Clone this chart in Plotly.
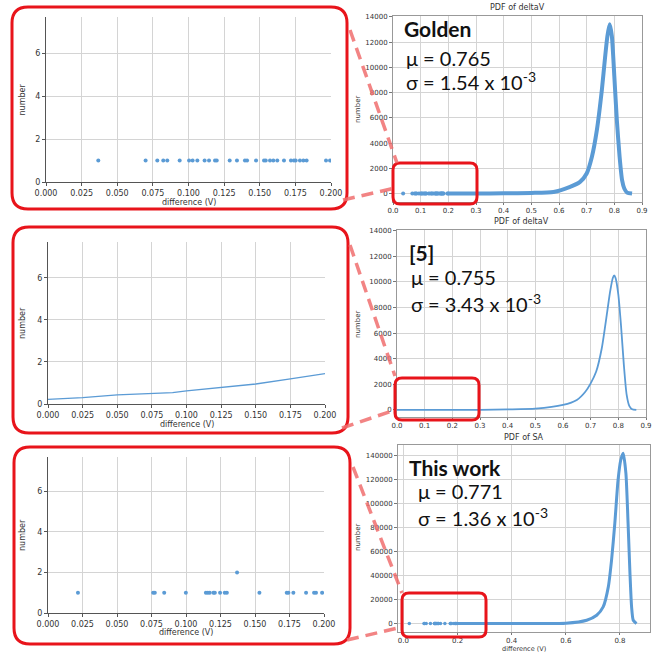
import plotly.graph_objects as go

W, H = 665, 654
BLUE = "#5b9bd5"
RED = "#e8141b"
PINK = "rgba(240,110,110,0.85)"

# ---------------- data ----------------
# top-left zoom (Golden): isolated counts
golden_low_x = [0.0367, 0.0699, 0.0781, 0.0823, 0.0851, 0.0938, 0.1004, 0.1029, 0.1062,
                0.1113, 0.1144, 0.1186, 0.1198, 0.1289, 0.1340, 0.1396, 0.1411, 0.1474,
                0.1530, 0.1542, 0.1572, 0.1595, 0.1623, 0.1670, 0.1719, 0.1740, 0.1752,
                0.1782, 0.1806, 0.1829, 0.1965, 0.1993]
golden_low_y = [1] * len(golden_low_x)

# top-right Golden PDF
golden_x = [0.20, 0.30, 0.40, 0.50, 0.58, 0.64, 0.676, 0.700, 0.719, 0.737, 0.755, 0.767,
            0.775, 0.783, 0.791, 0.800, 0.809, 0.819, 0.828, 0.836, 0.846, 0.864]
golden_y = [2, 5, 15, 50, 130, 530, 925, 1590, 2920, 5050, 8230, 10890,
            12480, 13410, 12480, 9290, 5840, 2920, 1060, 400, 80, 0]

# middle-left zoom ([5])
ref_low_x = [0.000, 0.025, 0.050, 0.075, 0.090, 0.100, 0.125, 0.150, 0.175, 0.200]
ref_low_y = [0.22, 0.30, 0.43, 0.49, 0.54, 0.62, 0.79, 0.95, 1.19, 1.44]

# middle-right [5] PDF
ref_x = [0.00, 0.10, 0.20, 0.30, 0.40, 0.50, 0.60, 0.65, 0.68, 0.70, 0.72, 0.74, 0.76,
         0.77, 0.78, 0.785, 0.79, 0.80, 0.81, 0.82, 0.83, 0.84, 0.85, 0.865]
ref_y = [0.2, 0.6, 1.5, 10, 40, 100, 390, 780, 1400, 2080, 3000, 4800, 7700,
         9200, 10300, 10500, 10300, 9000, 6500, 3500, 1200, 300, 50, 0]

# bottom-left zoom (This work)
work_low_x = [0.0217, 0.0762, 0.0774, 0.0842, 0.0999, 0.1144, 0.1158, 0.1172, 0.1199,
              0.1209, 0.1247, 0.1281, 0.1296, 0.1370, 0.1532, 0.1730, 0.1742, 0.1778,
              0.1870, 0.1928, 0.1942, 0.1986]
work_low_y = [1, 1, 1, 1, 1, 1, 1, 1, 1, 1, 1, 1, 1, 2, 1, 1, 1, 1, 1, 1, 1, 1]

# bottom-right This work PDF
work_x = [0.20, 0.30, 0.40, 0.50, 0.60, 0.677, 0.714, 0.738, 0.757, 0.769, 0.781, 0.793,
          0.803, 0.812, 0.822, 0.830, 0.837, 0.843, 0.849, 0.861]
work_y = [2, 5, 15, 60, 300, 2800, 6960, 13900, 30600, 52900, 83500, 119700,
          136400, 142000, 125300, 83500, 41800, 13900, 2800, 0]

labels = ["Golden", "[5]", "This work"]
mus = ["0.765", "0.755", "0.771"]
sigmas = ["1.54", "3.43", "1.36"]
titles = ["PDF of deltaV", "PDF of deltaV", "PDF of SA"]


def px(x):
    return x / W


def py(y):
    return 1 - y / H


fig = go.Figure()

# left zoom panels
fig.add_trace(go.Scatter(x=golden_low_x, y=golden_low_y, mode="markers",
                         marker=dict(color=BLUE, size=4), xaxis="x", yaxis="y"))
fig.add_trace(go.Scatter(x=ref_low_x, y=ref_low_y, mode="lines",
                         line=dict(color=BLUE, width=1.3), xaxis="x2", yaxis="y2"))
fig.add_trace(go.Scatter(x=work_low_x, y=work_low_y, mode="markers",
                         marker=dict(color=BLUE, size=4), xaxis="x3", yaxis="y3"))
# right full panels
fig.add_trace(go.Scatter(x=golden_low_x, y=golden_low_y, mode="markers",
                         marker=dict(color=BLUE, size=4), xaxis="x4", yaxis="y4"))
fig.add_trace(go.Scatter(x=golden_x, y=golden_y, mode="lines",
                         line=dict(color=BLUE, width=4, shape="spline", smoothing=0.6),
                         xaxis="x4", yaxis="y4"))
fig.add_trace(go.Scatter(x=ref_x, y=ref_y, mode="lines",
                         line=dict(color=BLUE, width=1.8, shape="spline", smoothing=0.6),
                         xaxis="x5", yaxis="y5"))
fig.add_trace(go.Scatter(x=work_low_x, y=work_low_y, mode="markers",
                         marker=dict(color=BLUE, size=3.5), xaxis="x6", yaxis="y6"))
fig.add_trace(go.Scatter(x=work_x, y=work_y, mode="lines",
                         line=dict(color=BLUE, width=3, shape="spline", smoothing=0.6),
                         xaxis="x6", yaxis="y6"))

FONT = "DejaVu Sans"
GRID = "#d4d4d4"

left_boxes = [  # plot area px: x0, x1, ytop, ybottom
    (46, 331, 17, 182),
    (48, 325, 242, 404),
    (48, 324, 457, 613),
]
right_boxes = [
    (393, 642, 16, 202),
    (397, 646, 230, 417),
    (398, 650, 445, 632),
]

layout = dict(width=W, height=H, autosize=False,
              margin=dict(l=0, r=0, t=0, b=0, pad=0, autoexpand=False),
              paper_bgcolor="white", plot_bgcolor="white", showlegend=False,
              font=dict(family=FONT, color="#333"))

for i, (x0, x1, yt, yb) in enumerate(left_boxes):
    n = i + 1
    xa = "xaxis" if n == 1 else f"xaxis{n}"
    ya = "yaxis" if n == 1 else f"yaxis{n}"
    layout[xa] = dict(domain=[px(x0), px(x1)], range=[0, 0.2], anchor=f"y{'' if n == 1 else n}",
                      tickvals=[0, 0.025, 0.05, 0.075, 0.1, 0.125, 0.15, 0.175, 0.2],
                      ticktext=["0.000", "0.025", "0.050", "0.075", "0.100", "0.125", "0.150", "0.175", "0.200"],
                      showgrid=True, gridcolor=GRID, gridwidth=1, zeroline=False,
                      showline=True, linecolor="#555", linewidth=1.2,
                      ticks="outside", ticklen=3, tickcolor="#555", automargin=False,
                      tickfont=dict(size=8, color="#333"))
    layout[ya] = dict(domain=[py(yb), py(yt)], range=[0, 7.7], anchor=f"x{'' if n == 1 else n}",
                      tickvals=[0, 2, 4, 6], showgrid=True, gridcolor=GRID, zeroline=False,
                      showline=True, linecolor="#555", linewidth=1.2,
                      ticks="outside", ticklen=3, tickcolor="#555", automargin=False,
                      tickfont=dict(size=8, color="#333"))

right_ranges = [
    dict(x=[0, 0.9], y=[-670, 14070], xt=[0, 0.1, 0.2, 0.3, 0.4, 0.5, 0.6, 0.7, 0.8, 0.9],
         yt=list(range(0, 14001, 2000))),
    dict(x=[0, 0.9], y=[-550, 14050], xt=[0, 0.1, 0.2, 0.3, 0.4, 0.5, 0.6, 0.7, 0.8, 0.9],
         yt=list(range(0, 14001, 2000))),
    dict(x=[-0.02, 0.911], y=[-7000, 148900], xt=[0, 0.2, 0.4, 0.6, 0.8],
         yt=list(range(0, 140001, 20000))),
]
for i, (x0, x1, yt, yb) in enumerate(right_boxes):
    n = i + 4
    r = right_ranges[i]
    layout[f"xaxis{n}"] = dict(domain=[px(x0), px(x1)], range=r["x"], anchor=f"y{n}",
                               tickvals=r["xt"], tickformat=".1f",
                               showgrid=True, gridcolor=GRID, zeroline=False,
                               showline=True, mirror=True, linecolor="#999", linewidth=1,
                               ticks="outside", ticklen=2, tickcolor="#777", automargin=False,
                               tickfont=dict(size=7, color="#333"))
    layout[f"yaxis{n}"] = dict(domain=[py(yb), py(yt)], range=r["y"], anchor=f"x{n}",
                               tickvals=r["yt"], tickformat="d",
                               showgrid=True, gridcolor=GRID, zeroline=False,
                               showline=True, mirror=True, linecolor="#999", linewidth=1,
                               ticks="outside", ticklen=3, tickcolor="#777", automargin=False,
                               tickfont=dict(size=7, color="#333"))

ann = []


def text(x, y, s, size, xanchor="center", angle=0, family=FONT, color="#333"):
    ann.append(dict(x=px(x), y=py(y), xref="paper", yref="paper", text=s, showarrow=False,
                    xanchor=xanchor, yanchor="middle", textangle=angle, borderpad=0,
                    font=dict(size=size, family=family, color=color)))


# left panel axis labels
for (x0, x1, yt, yb), ly in zip(left_boxes, [202, 424, 632]):
    text((x0 + x1) / 2, ly, "difference (V)", 8)
    text(22, (yt + yb) / 2, "number", 8, angle=-90)

# right panel axis labels / titles
for ny in [110, 325, 538]:
    text(358, ny, "number", 7, angle=-90)
for (x0, x1, yt, yb), ty, t in zip(right_boxes, [7, 222, 437], titles):
    text((x0 + x1) / 2, ty, t, 8)
text(524, 648.5, "difference (V)", 6.5)

BIG = "Lato"
# inset statistics text
pos = [((403, 29), (405, 58), (405, 81)),
       ((408, 252), (410, 277), (410, 303)),
       ((408, 467), (417, 491), (417, 517))]
for (p1, p2, p3), lab, mu, sg in zip(pos, labels, mus, sigmas):
    text(p1[0], p1[1], f"<b>{lab}</b>", 21, xanchor="left", family=BIG, color="#111")
    text(p2[0], p2[1], f"\u03bc = {mu}", 20, xanchor="left", family=BIG, color="#111")
    text(p3[0], p3[1], f"\u03c3 = {sg} x 10<sup>-3</sup>", 20, xanchor="left", family=BIG, color="#111")
layout["annotations"] = ann


def rrect(x0, y0, x1, y1, r):
    X0, X1 = px(x0), px(x1)
    Y0, Y1 = py(y0), py(y1)
    rx, ry = r / W, r / H
    return (f"M {X0 + rx},{Y0} L {X1 - rx},{Y0} Q {X1},{Y0} {X1},{Y0 - ry} "
            f"L {X1},{Y1 + ry} Q {X1},{Y1} {X1 - rx},{Y1} L {X0 + rx},{Y1} "
            f"Q {X0},{Y1} {X0},{Y1 + ry} L {X0},{Y0 - ry} Q {X0},{Y0} {X0 + rx},{Y0} Z")


shapes = []
for b in [(12, 7, 347, 209), (13, 227, 348, 433), (14, 447, 350, 644)]:
    shapes.append(dict(type="path", path=rrect(*b, 16), xref="paper", yref="paper",
                       line=dict(color=RED, width=3)))
for b in [(393, 163, 477, 204), (395, 378, 479, 420), (402, 593, 486, 637)]:
    shapes.append(dict(type="path", path=rrect(*b, 7), xref="paper", yref="paper",
                       line=dict(color=RED, width=3)))
for (a, b) in [((350, 30), (397, 163)), ((343, 200), (395, 188)),
               ((350, 245), (395, 376)), ((342, 428), (395, 410)),
               ((353, 467), (402, 593)), ((347, 640), (402, 627))]:
    shapes.append(dict(type="line", x0=px(a[0]), y0=py(a[1]), x1=px(b[0]), y1=py(b[1]),
                       xref="paper", yref="paper",
                       line=dict(color=PINK, width=3.5, dash="12px,7px")))
layout["shapes"] = shapes

fig.update_layout(**layout)
fig.write_html("out.html", config={"responsive": False, "displayModeBar": False},
               post_script="document.body.style.margin='0';document.body.style.overflow='hidden';")
